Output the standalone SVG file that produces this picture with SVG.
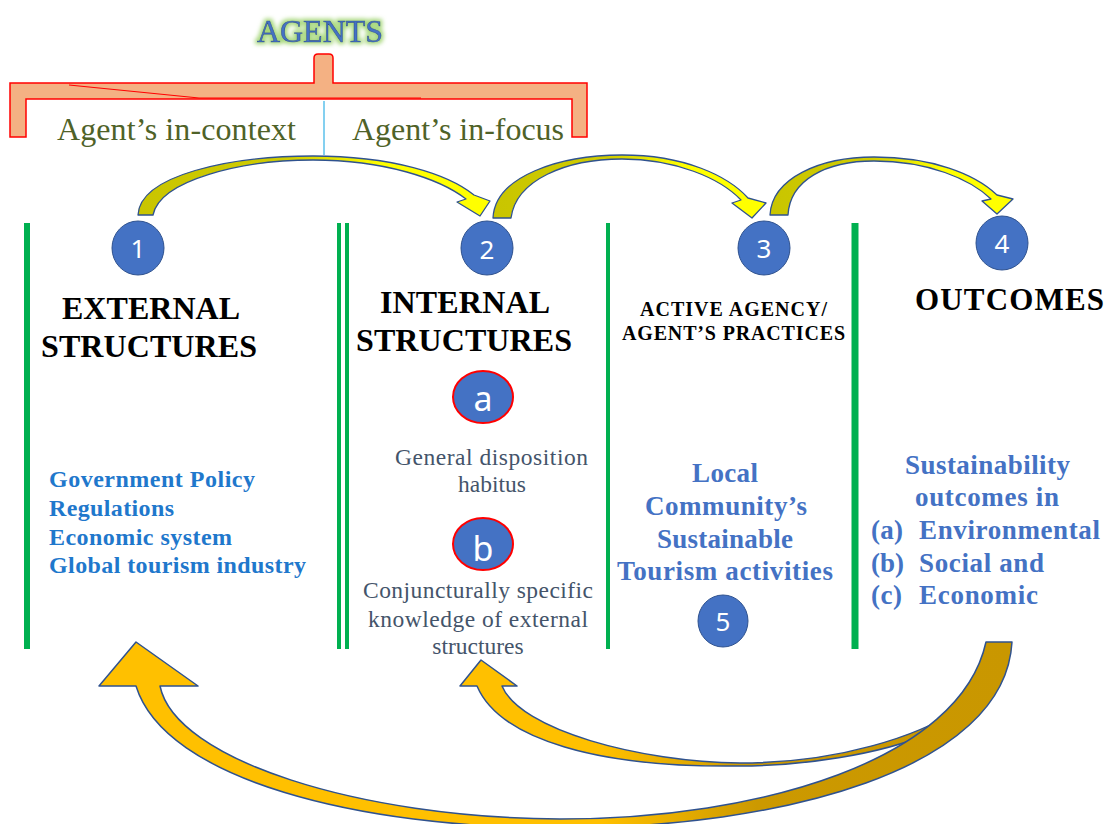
<svg xmlns="http://www.w3.org/2000/svg" width="1119" height="824" viewBox="0 0 1119 824">
  <defs>
    <style>
      .serif { font-family: "Liberation Serif", "Times New Roman", serif; }
      .title { font-family: "Liberation Serif", "Times New Roman", serif; font-weight: bold; fill: #000; }
      .ext { font-family: "Liberation Serif", "Times New Roman", serif; font-weight: bold; font-size: 24px; fill: #1F78CC; }
      .lbl { font-family: "Liberation Serif", "Times New Roman", serif; font-weight: bold; font-size: 27px; fill: #4472C4; }
      .sub { font-family: "Liberation Serif", "Times New Roman", serif; font-size: 23.5px; fill: #44546A; }
      .ctx { font-family: "Liberation Serif", "Times New Roman", serif; font-size: 32px; fill: #4F6228; }
      .num { font-family: "Noto Sans", "Open Sans", sans-serif; font-size: 26px; fill: #fff; text-anchor: middle; }
      .let { font-family: "Noto Sans", "Open Sans", sans-serif; font-size: 34px; fill: #fff; text-anchor: middle; }
      .badge { fill: #4472C4; stroke: #2F528F; stroke-width: 1; }
      .badge-red { fill: #4472C4; stroke: #FF0000; stroke-width: 2; }
      .rule { stroke: #00B050; fill: none; }
      .yarrow { stroke: #2F528F; stroke-width: 1.3; stroke-linejoin: round; }
      .garrow { stroke: #2F528F; stroke-width: 1.5; stroke-linejoin: round; fill: url(#goldGrad); }
    </style>
    <linearGradient id="yellowGrad" x1="0" y1="0" x2="1" y2="0">
      <stop offset="0" stop-color="#C9C500"/>
      <stop offset="0.42" stop-color="#D0CC00"/>
      <stop offset="0.7" stop-color="#FFFF00"/>
      <stop offset="1" stop-color="#FFFF00"/>
    </linearGradient>
    <linearGradient id="goldGrad" gradientUnits="userSpaceOnUse" x1="100" y1="0" x2="1012" y2="0">
      <stop offset="0" stop-color="#FFC000"/>
      <stop offset="0.55" stop-color="#FFC000"/>
      <stop offset="0.72" stop-color="#CC9900"/>
      <stop offset="1" stop-color="#C99700"/>
    </linearGradient>
    <filter id="glow" x="-20%" y="-40%" width="140%" height="180%">
      <feMorphology in="SourceAlpha" operator="dilate" radius="1.5" result="thick"/>
      <feGaussianBlur in="thick" stdDeviation="2" result="soft"/>
      <feFlood flood-color="#A6D77A"/>
      <feComposite in2="soft" operator="in" result="halo"/>
      <feMerge>
        <feMergeNode in="halo"/>
        <feMergeNode in="SourceGraphic"/>
      </feMerge>
    </filter>
  </defs>

  <rect width="1119" height="824" fill="#fff"/>

  <!-- Agents heading and brace -->
  <g id="agents">
    <text x="320" y="42" class="serif" font-size="32" fill="#4472C4" stroke="#2F4F8F" stroke-width="0.6" text-anchor="middle" filter="url(#glow)">AGENTS</text>
    <path d="M10 83 H314 V58 Q314 54 318 54 H329 Q333 54 333 58 V83 H587 V137 H572 V99 H26 V137 H10 Z" fill="#F4B183" stroke="#FF0000" stroke-width="1.5"/>
    <path d="M69 85 L199 98 H421" fill="none" stroke="#FF0000" stroke-width="1.2"/>
    <line x1="324" y1="101" x2="324" y2="155" stroke="#5BC0EB" stroke-width="1.5"/>
    <text x="57" y="140" class="ctx" textLength="239">Agent’s in-context</text>
    <text x="352" y="140" class="ctx" textLength="212">Agent’s in-focus</text>
  </g>

  <!-- Column dividers -->
  <g id="dividers">
    <line class="rule" x1="27" y1="223" x2="27" y2="649" stroke-width="6"/>
    <line class="rule" x1="339" y1="223" x2="339" y2="649" stroke-width="4"/>
    <line class="rule" x1="347" y1="223" x2="347" y2="649" stroke-width="4"/>
    <line class="rule" x1="608" y1="223" x2="608" y2="649" stroke-width="4"/>
    <line class="rule" x1="855" y1="223" x2="855" y2="649" stroke-width="7"/>
  </g>

  <!-- Connectors -->
  <g id="connectors">
    <!-- 1 to 2 -->
    <path class="yarrow" fill="url(#yellowGrad)" d="M138 215 C140 175 230 156 313 156 C392 156 448 174 474 195 L490 201 L480 216 L457 202 L466 199 C440 179 385 160 313 160 C242 160 160 180 153 215 Z"/>
    <!-- 2 to 3 -->
    <path class="yarrow" fill="url(#yellowGrad)" d="M493 218 C495 176 560 155 622 155 C685 155 728 176 748 198 L766 203 L752 218 L732 203 L741 200 C720 178 675 159 622 159 C566 159 516 180 511 218 Z"/>
    <!-- 3 to 4 -->
    <path class="yarrow" fill="url(#yellowGrad)" d="M770 215 C772 178 820 157 874 157 C932 157 975 174 997 195 L1013 199 L997 214 L982 201 L991 199 C970 179 928 161 874 161 C826 161 790 180 788 215 Z"/>
    <!-- outcomes back to internal structures -->
    <path class="garrow" d="M481 660 L517 686 L502 686 C520 730 640 762 740 763 C840 763 920 735 957 710 L968 714 L930 733 C880 755 800 766 740 766 C600 768 500 740 477 686 L460 686 Z"/>
    <!-- outcomes back to external structures -->
    <path class="garrow" d="M136 642 L198 686 L160 686 C175 760 360 818 560 819 C760 819 960 760 986 642 L1012 642 C1005 770 780 828 560 828 C360 828 165 780 136 686 L99 686 Z"/>
  </g>

  <!-- Column 1 -->
  <g id="external">
    <ellipse class="badge" cx="138" cy="248" rx="26" ry="27"/>
    <text class="num" x="138" y="258">1</text>
    <text class="title" x="62" y="319" font-size="32" textLength="178">EXTERNAL</text>
    <text class="title" x="41" y="357" font-size="32" textLength="216">STRUCTURES</text>
    <text class="ext" x="49" y="487" textLength="206">Government Policy</text>
    <text class="ext" x="49" y="516" textLength="125">Regulations</text>
    <text class="ext" x="49" y="545" textLength="183">Economic system</text>
    <text class="ext" x="49" y="573" textLength="257">Global tourism industry</text>
  </g>

  <!-- Column 2 -->
  <g id="internal">
    <ellipse class="badge" cx="487" cy="248" rx="26" ry="27"/>
    <text class="num" x="487" y="259">2</text>
    <text class="title" x="380" y="313" font-size="32" textLength="170">INTERNAL</text>
    <text class="title" x="356" y="351" font-size="32" textLength="216">STRUCTURES</text>
    <ellipse class="badge-red" cx="483" cy="397" rx="30" ry="26"/>
    <text class="let" x="483" y="411">a</text>
    <text class="sub" x="395" y="465" textLength="193">General disposition</text>
    <text class="sub" x="492" y="492" text-anchor="middle">habitus</text>
    <ellipse class="badge-red" cx="483" cy="544" rx="30" ry="26"/>
    <text class="let" x="483" y="561">b</text>
    <text class="sub" x="363" y="598" textLength="230">Conjuncturally specific</text>
    <text class="sub" x="368" y="627" textLength="220">knowledge of external</text>
    <text class="sub" x="478" y="654" text-anchor="middle">structures</text>
  </g>

  <!-- Column 3 -->
  <g id="agency">
    <ellipse class="badge" cx="764" cy="248" rx="26" ry="27"/>
    <text class="num" x="764" y="258">3</text>
    <text class="title" x="640" y="316" font-size="20" textLength="187">ACTIVE AGENCY/</text>
    <text class="title" x="622" y="340" font-size="20" textLength="223">AGENT’S PRACTICES</text>
    <text class="lbl" x="692" y="482" textLength="66">Local</text>
    <text class="lbl" x="645" y="515" textLength="162">Community’s</text>
    <text class="lbl" x="657" y="548" textLength="136">Sustainable</text>
    <text class="lbl" x="617" y="580" textLength="216">Tourism activities</text>
    <ellipse class="badge" cx="723" cy="621" rx="25" ry="26"/>
    <text class="num" x="723" y="631">5</text>
  </g>

  <!-- Column 4 -->
  <g id="outcomes">
    <ellipse class="badge" cx="1002" cy="243" rx="26" ry="27"/>
    <text class="num" x="1002" y="253">4</text>
    <text class="title" x="915" y="310" font-size="31" textLength="189">OUTCOMES</text>
    <text class="lbl" x="905" y="474" textLength="165">Sustainability</text>
    <text class="lbl" x="915" y="506" textLength="144">outcomes in</text>
    <text class="lbl" x="871" y="539" textLength="32">(a)</text>
    <text class="lbl" x="919" y="539" textLength="181">Environmental</text>
    <text class="lbl" x="871" y="572" textLength="33">(b)</text>
    <text class="lbl" x="919" y="572" textLength="125">Social and</text>
    <text class="lbl" x="871" y="604" textLength="31">(c)</text>
    <text class="lbl" x="919" y="604" textLength="119">Economic</text>
  </g>
</svg>
